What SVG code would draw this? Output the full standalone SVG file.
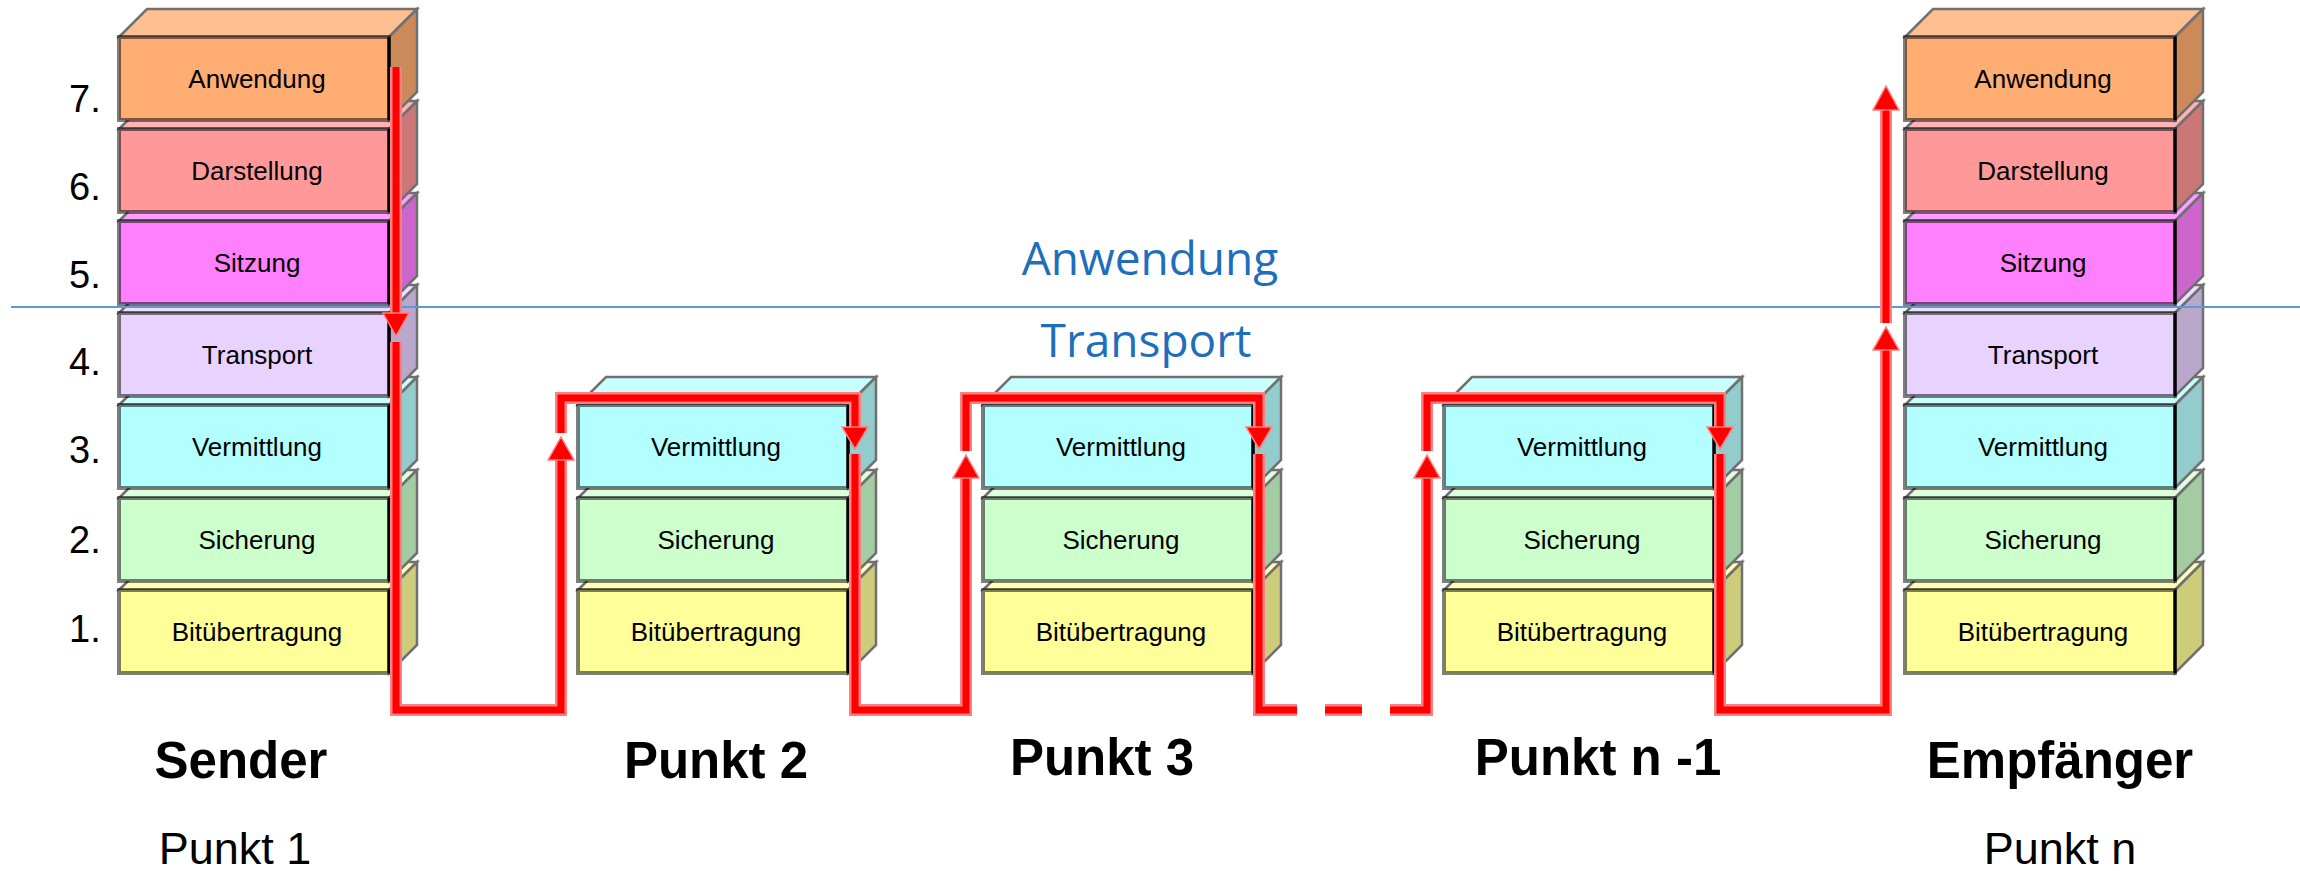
<svg xmlns="http://www.w3.org/2000/svg" width="2300" height="871" viewBox="0 0 2300 871">
<style>
  .t { fill:var(--t); stroke:#707070; stroke-width:2.5; stroke-linejoin:miter; }
  .s { fill:var(--s); stroke:#707070; stroke-width:2.5; stroke-linejoin:miter; }
  .f { fill:var(--f); stroke:#000; stroke-opacity:0.5; stroke-width:4; }
  .e { stroke:#000; stroke-width:3; }
  .lbl { font-family:"Liberation Sans", Arial, sans-serif; font-size:26px; text-anchor:middle; fill:#000; }
  .num { font-family:"Liberation Sans", Arial, sans-serif; font-size:38px; fill:#000; }
  .bold { font-family:"Liberation Sans", Arial, sans-serif; font-size:51px; font-weight:bold; text-anchor:middle; fill:#000; }
  .reg { font-family:"Liberation Sans", Arial, sans-serif; font-size:45px; text-anchor:middle; fill:#000; }
  .blue { font-family:"Open Sans", "Noto Sans", sans-serif; font-size:46px; text-anchor:middle; fill:#1E6EBB; }
  .L7 { --f:#FFAD73; --t:#FFBF90; --s:#CC8A5B; }
  .L6 { --f:#FF9999; --t:#FFB3B3; --s:#CC7777; }
  .L5 { --f:#FF80FF; --t:#FF9EFF; --s:#CC66CC; }
  .L4 { --f:#E8D2FF; --t:#EEDFFF; --s:#B9A8CC; }
  .L3 { --f:#B3FFFF; --t:#C8FFFF; --s:#92CCCC; }
  .L2 { --f:#CCFFCC; --t:#DDFFDD; --s:#A3CCA3; }
  .L1 { --f:#FFFF99; --t:#FFFFB8; --s:#CCCC7A; }
  .halo { fill:none; stroke:#FF8080; stroke-width:12; stroke-linejoin:miter; stroke-linecap:butt; }
  .core { fill:none; stroke:#FF0000; stroke-width:7; stroke-linejoin:miter; stroke-linecap:butt; }
  .arr { fill:#FF0000; stroke:#FF8080; stroke-width:1.5; }
</style>
<defs>
  <g id="box">
    <polygon class="t" points="0,0 28,-28 298,-28 270,0"/>
    <polygon class="s" points="270,0 298,-28 298,55 270,83"/>
    <rect class="f" x="0" y="0" width="270" height="83"/>
    <line class="e" x1="270" y1="0" x2="270" y2="83"/>
  </g>
</defs>

<!-- layer numbers -->
<g id="numbers">
  <text class="num" x="69" y="112">7.</text>
  <text class="num" x="69" y="200">6.</text>
  <text class="num" x="69" y="288">5.</text>
  <text class="num" x="69" y="375">4.</text>
  <text class="num" x="69" y="463">3.</text>
  <text class="num" x="69" y="553">2.</text>
  <text class="num" x="69" y="642">1.</text>
</g>

<!-- Sender stack -->
<g id="sender">
  <g class="L1" transform="translate(119,590)"><use href="#box"/><text class="lbl" x="138" y="51">Bitübertragung</text></g>
  <g class="L2" transform="translate(119,498)"><use href="#box"/><text class="lbl" x="138" y="51">Sicherung</text></g>
  <g class="L3" transform="translate(119,405)"><use href="#box"/><text class="lbl" x="138" y="51">Vermittlung</text></g>
  <g class="L4" transform="translate(119,313)"><use href="#box"/><text class="lbl" x="138" y="51">Transport</text></g>
  <g class="L5" transform="translate(119,221)"><use href="#box"/><text class="lbl" x="138" y="51">Sitzung</text></g>
  <g class="L6" transform="translate(119,129)"><use href="#box"/><text class="lbl" x="138" y="51">Darstellung</text></g>
  <g class="L7" transform="translate(119,37)"><use href="#box"/><text class="lbl" x="138" y="51">Anwendung</text></g>
</g>

<!-- Punkt 2 stack -->
<g id="punkt2">
  <g class="L1" transform="translate(578,590)"><use href="#box"/><text class="lbl" x="138" y="51">Bitübertragung</text></g>
  <g class="L2" transform="translate(578,498)"><use href="#box"/><text class="lbl" x="138" y="51">Sicherung</text></g>
  <g class="L3" transform="translate(578,405)"><use href="#box"/><text class="lbl" x="138" y="51">Vermittlung</text></g>
</g>

<!-- Punkt 3 stack -->
<g id="punkt3">
  <g class="L1" transform="translate(983,590)"><use href="#box"/><text class="lbl" x="138" y="51">Bitübertragung</text></g>
  <g class="L2" transform="translate(983,498)"><use href="#box"/><text class="lbl" x="138" y="51">Sicherung</text></g>
  <g class="L3" transform="translate(983,405)"><use href="#box"/><text class="lbl" x="138" y="51">Vermittlung</text></g>
</g>

<!-- Punkt n-1 stack -->
<g id="punktn1">
  <g class="L1" transform="translate(1444,590)"><use href="#box"/><text class="lbl" x="138" y="51">Bitübertragung</text></g>
  <g class="L2" transform="translate(1444,498)"><use href="#box"/><text class="lbl" x="138" y="51">Sicherung</text></g>
  <g class="L3" transform="translate(1444,405)"><use href="#box"/><text class="lbl" x="138" y="51">Vermittlung</text></g>
</g>

<!-- Empfaenger stack -->
<g id="empfaenger">
  <g class="L1" transform="translate(1905,590)"><use href="#box"/><text class="lbl" x="138" y="51">Bitübertragung</text></g>
  <g class="L2" transform="translate(1905,498)"><use href="#box"/><text class="lbl" x="138" y="51">Sicherung</text></g>
  <g class="L3" transform="translate(1905,405)"><use href="#box"/><text class="lbl" x="138" y="51">Vermittlung</text></g>
  <g class="L4" transform="translate(1905,313)"><use href="#box"/><text class="lbl" x="138" y="51">Transport</text></g>
  <g class="L5" transform="translate(1905,221)"><use href="#box"/><text class="lbl" x="138" y="51">Sitzung</text></g>
  <g class="L6" transform="translate(1905,129)"><use href="#box"/><text class="lbl" x="138" y="51">Darstellung</text></g>
  <g class="L7" transform="translate(1905,37)"><use href="#box"/><text class="lbl" x="138" y="51">Anwendung</text></g>
</g>

<!-- boundary line -->
<g id="boundary">
  <line x1="11" y1="307" x2="2300" y2="307" stroke="#5B9BD5" stroke-width="2"/>
  <text class="blue" x="1150" y="275">Anwendung</text>
  <text class="blue" x="1146" y="357">Transport</text>
</g>

<!-- connectors -->
<g id="connectors">
  <path class="halo" d="M396,67 V318 M396,342 V710 H561 V458 M561,433 V398 H855 V430 M855,454 V710 H966 V476 M966,451 V398 H1259 V430 M1259,454 V710 H1297 M1325,710 H1362 M1390,710 H1427 V476 M1427,451 V398 H1720 V430 M1720,454 V710 H1886 V348 M1886,323 V108"/>
  <path class="core" d="M396,67 V318 M396,342 V710 H561 V458 M561,433 V398 H855 V430 M855,454 V710 H966 V476 M966,451 V398 H1259 V430 M1259,454 V710 H1297 M1325,710 H1362 M1390,710 H1427 V476 M1427,451 V398 H1720 V430 M1720,454 V710 H1886 V348 M1886,323 V108"/>
  <polygon class="arr" points="383,313 409,313 396,336"/>
  <polygon class="arr" points="548,460 574,460 561,437"/>
  <polygon class="arr" points="842,427 868,427 855,449"/>
  <polygon class="arr" points="953,478 979,478 966,455"/>
  <polygon class="arr" points="1246,427 1272,427 1259,449"/>
  <polygon class="arr" points="1414,478 1440,478 1427,455"/>
  <polygon class="arr" points="1707,427 1733,427 1720,449"/>
  <polygon class="arr" points="1873,350 1899,350 1886,327"/>
  <polygon class="arr" points="1873,110 1899,110 1886,86"/>
</g>

<!-- station labels -->
<g id="labels">
  <text class="bold" x="241" y="778">Sender</text>
  <text class="reg" x="235" y="864">Punkt 1</text>
  <text class="bold" x="716" y="778">Punkt 2</text>
  <text class="bold" x="1102" y="775">Punkt 3</text>
  <text class="bold" x="1598" y="775">Punkt n -1</text>
  <text class="bold" x="2060" y="778">Empfänger</text>
  <text class="reg" x="2060" y="864">Punkt n</text>
</g>
</svg>
